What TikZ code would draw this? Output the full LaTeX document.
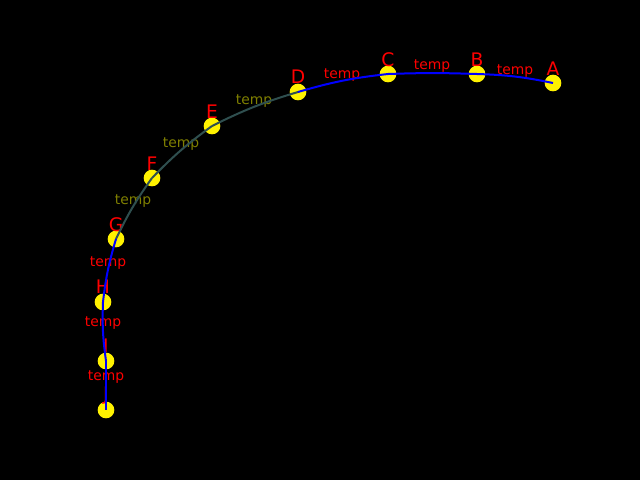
\documentclass[tikz,border=0pt]{standalone}
\usepackage{fontspec}
\setmainfont{DejaVu Sans}
\usepackage{xcolor}
\usetikzlibrary{positioning,calc}

\definecolor{slategray}{RGB}{47,79,79}
\definecolor{olivetext}{RGB}{128,128,0}

\tikzset{
  stop/.style={circle, fill=yellow, minimum size=12.5pt, inner sep=0pt},
  letter/.style={text=red, font=\fontsize{14}{15}\selectfont},
  temp/.style={font=\fontsize{10.4}{11}\selectfont},
  road/.style={line width=1.5pt, bend right=5}
}

\begin{document}
\begin{tikzpicture}[x=0.75pt, y=-0.75pt]
    % Background
    \fill[black] (0,0) rectangle (640,480);
    \useasboundingbox (0,0) rectangle (640,480);

    % Stops
    \node[stop] (A) at (553,83) {};
    \node[stop] (B) at (477,74) {};
    \node[stop] (C) at (388,74) {};
    \node[stop] (D) at (298,92) {};
    \node[stop] (E) at (212,126) {};
    \node[stop] (F) at (152,178) {};
    \node[stop] (G) at (116,239) {};
    \node[stop] (H) at (103,302) {};
    \node[stop] (I) at (106,361) {};
    \node[stop] (J) at (106,410) {};

    % Letters
    \node[letter] (lA) at (553,69) {A};
    \node[letter] (lB) at (477,60) {B};
    \node[letter] (lC) at (388,60) {C};
    \node[letter] (lD) at (298,77) {D};
    \node[letter] (lE) at (212,112) {E};
    \node[letter] (lF) at (152,164) {F};
    \node[letter] (lG) at (116,225) {G};
    \node[letter] (lH) at (103,287) {H};
    \node[letter] (lI) at (106,346) {I};
    \node[letter] (lJ) at (106,396) {J};

    % Edge labels
    \node[temp, text=red] (tAB) at (515,71) {temp};
    \node[temp, text=red] (tBC) at (432,66) {temp};
    \node[temp, text=red] (tCD) at (342,75) {temp};
    \node[temp, text=olivetext] (tDE) at (254,101) {temp};
    \node[temp, text=olivetext] (tEF) at (181,144) {temp};
    \node[temp, text=olivetext] (tFG) at (133,201) {temp};
    \node[temp, text=red] (tGH) at (108,263) {temp};
    \node[temp, text=red] (tHI) at (103,323) {temp};
    \node[temp, text=red] (tIJ) at (106,377) {temp};

    % Roads
    \draw[road, blue] (A.center) to (B.center);
    \draw[road, blue] (B.center) to[bend right=2] (C.center);
    \draw[road, blue] (C.center) to (D.center);
    \draw[road, slategray] (D.center) to (E.center);
    \draw[road, slategray] (E.center) to (F.center);
    \draw[road, slategray] (F.center) to (G.center);
    \draw[road, blue] (G.center) to (H.center);
    \draw[road, blue] (H.center) to (I.center);
    \draw[road, blue] (I.center) to[bend right=0] (J.center);
\end{tikzpicture}
\end{document}
